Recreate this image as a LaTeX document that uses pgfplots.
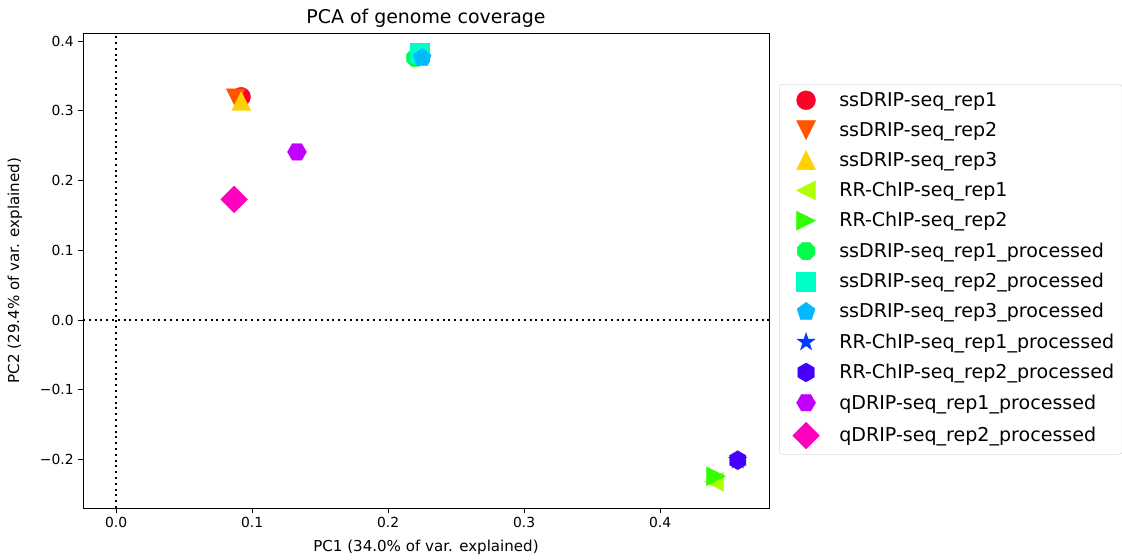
\documentclass[border=0pt]{standalone}
\usepackage{fontspec}
\setmainfont{DejaVu Sans}
\usepackage{pgfplots}
\pgfplotsset{compat=1.18}

\definecolor{c0}{HTML}{FF0029}
\definecolor{c1}{HTML}{FF5400}
\definecolor{c2}{HTML}{FFD100}
\definecolor{c3}{HTML}{AFFF00}
\definecolor{c4}{HTML}{32FF00}
\definecolor{c5}{HTML}{00FF4B}
\definecolor{c6}{HTML}{00FFC7}
\definecolor{c7}{HTML}{00B9FF}
\definecolor{c8}{HTML}{003BFF}
\definecolor{c9}{HTML}{4300FF}
\definecolor{c10}{HTML}{C100FF}
\definecolor{c11}{HTML}{FF00BF}

\pgfdeclareplotmark{tup}{%
  \pgfpathmoveto{\pgfqpoint{0pt}{\pgfplotmarksize}}%
  \pgfpathlineto{\pgfqpoint{-\pgfplotmarksize}{-\pgfplotmarksize}}%
  \pgfpathlineto{\pgfqpoint{\pgfplotmarksize}{-\pgfplotmarksize}}%
  \pgfpathclose\pgfusepathqfillstroke}
\pgfdeclareplotmark{tdown}{%
  \pgfpathmoveto{\pgfqpoint{0pt}{-\pgfplotmarksize}}%
  \pgfpathlineto{\pgfqpoint{-\pgfplotmarksize}{\pgfplotmarksize}}%
  \pgfpathlineto{\pgfqpoint{\pgfplotmarksize}{\pgfplotmarksize}}%
  \pgfpathclose\pgfusepathqfillstroke}
\pgfdeclareplotmark{tleft}{%
  \pgfpathmoveto{\pgfqpoint{-\pgfplotmarksize}{0pt}}%
  \pgfpathlineto{\pgfqpoint{\pgfplotmarksize}{\pgfplotmarksize}}%
  \pgfpathlineto{\pgfqpoint{\pgfplotmarksize}{-\pgfplotmarksize}}%
  \pgfpathclose\pgfusepathqfillstroke}
\pgfdeclareplotmark{tright}{%
  \pgfpathmoveto{\pgfqpoint{\pgfplotmarksize}{0pt}}%
  \pgfpathlineto{\pgfqpoint{-\pgfplotmarksize}{\pgfplotmarksize}}%
  \pgfpathlineto{\pgfqpoint{-\pgfplotmarksize}{-\pgfplotmarksize}}%
  \pgfpathclose\pgfusepathqfillstroke}
\pgfdeclareplotmark{sq}{%
  \pgfpathrectanglecorners{\pgfqpoint{-\pgfplotmarksize}{-\pgfplotmarksize}}{\pgfqpoint{\pgfplotmarksize}{\pgfplotmarksize}}%
  \pgfusepathqfillstroke}
\pgfdeclareplotmark{diam}{%
  \pgfpathmoveto{\pgfqpoint{0pt}{1.414\pgfplotmarksize}}%
  \pgfpathlineto{\pgfqpoint{1.414\pgfplotmarksize}{0pt}}%
  \pgfpathlineto{\pgfqpoint{0pt}{-1.414\pgfplotmarksize}}%
  \pgfpathlineto{\pgfqpoint{-1.414\pgfplotmarksize}{0pt}}%
  \pgfpathclose\pgfusepathqfillstroke}
\pgfdeclareplotmark{oct}{%
  \pgfpathmoveto{\pgfpointpolar{22.5}{\pgfplotmarksize}}%
  \pgfpathlineto{\pgfpointpolar{67.5}{\pgfplotmarksize}}%
  \pgfpathlineto{\pgfpointpolar{112.5}{\pgfplotmarksize}}%
  \pgfpathlineto{\pgfpointpolar{157.5}{\pgfplotmarksize}}%
  \pgfpathlineto{\pgfpointpolar{202.5}{\pgfplotmarksize}}%
  \pgfpathlineto{\pgfpointpolar{247.5}{\pgfplotmarksize}}%
  \pgfpathlineto{\pgfpointpolar{292.5}{\pgfplotmarksize}}%
  \pgfpathlineto{\pgfpointpolar{337.5}{\pgfplotmarksize}}%
  \pgfpathclose\pgfusepathqfillstroke}
\pgfdeclareplotmark{pent}{%
  \pgfpathmoveto{\pgfpointpolar{90}{\pgfplotmarksize}}%
  \pgfpathlineto{\pgfpointpolar{162}{\pgfplotmarksize}}%
  \pgfpathlineto{\pgfpointpolar{234}{\pgfplotmarksize}}%
  \pgfpathlineto{\pgfpointpolar{306}{\pgfplotmarksize}}%
  \pgfpathlineto{\pgfpointpolar{18}{\pgfplotmarksize}}%
  \pgfpathclose\pgfusepathqfillstroke}
\pgfdeclareplotmark{hexa}{%
  \pgfpathmoveto{\pgfpointpolar{90}{\pgfplotmarksize}}%
  \pgfpathlineto{\pgfpointpolar{150}{\pgfplotmarksize}}%
  \pgfpathlineto{\pgfpointpolar{210}{\pgfplotmarksize}}%
  \pgfpathlineto{\pgfpointpolar{270}{\pgfplotmarksize}}%
  \pgfpathlineto{\pgfpointpolar{330}{\pgfplotmarksize}}%
  \pgfpathlineto{\pgfpointpolar{30}{\pgfplotmarksize}}%
  \pgfpathclose\pgfusepathqfillstroke}
\pgfdeclareplotmark{hexb}{%
  \pgfpathmoveto{\pgfpointpolar{0}{\pgfplotmarksize}}%
  \pgfpathlineto{\pgfpointpolar{60}{\pgfplotmarksize}}%
  \pgfpathlineto{\pgfpointpolar{120}{\pgfplotmarksize}}%
  \pgfpathlineto{\pgfpointpolar{180}{\pgfplotmarksize}}%
  \pgfpathlineto{\pgfpointpolar{240}{\pgfplotmarksize}}%
  \pgfpathlineto{\pgfpointpolar{300}{\pgfplotmarksize}}%
  \pgfpathclose\pgfusepathqfillstroke}
\pgfdeclareplotmark{starf}{%
  \pgfpathmoveto{\pgfpointpolar{90}{\pgfplotmarksize}}%
  \pgfpathlineto{\pgfpointpolar{126}{0.382\pgfplotmarksize}}%
  \pgfpathlineto{\pgfpointpolar{162}{\pgfplotmarksize}}%
  \pgfpathlineto{\pgfpointpolar{198}{0.382\pgfplotmarksize}}%
  \pgfpathlineto{\pgfpointpolar{234}{\pgfplotmarksize}}%
  \pgfpathlineto{\pgfpointpolar{270}{0.382\pgfplotmarksize}}%
  \pgfpathlineto{\pgfpointpolar{306}{\pgfplotmarksize}}%
  \pgfpathlineto{\pgfpointpolar{342}{0.382\pgfplotmarksize}}%
  \pgfpathlineto{\pgfpointpolar{18}{\pgfplotmarksize}}%
  \pgfpathlineto{\pgfpointpolar{54}{0.382\pgfplotmarksize}}%
  \pgfpathclose\pgfusepathqfillstroke}

\pgfplotsset{
  sc/.style={mark size=7.1pt, mark options={solid, line width=0.3pt}},
  dline/.style={black, sharp plot, mark=none, dash pattern=on 1.5pt off 2.85pt, line width=1.5pt, forget plot},
}

\begin{document}
\begin{tikzpicture}
\begin{axis}[
  name=ax,
  scale only axis,
  width=514.5pt, height=356.25pt,
  xmin=-0.0243, xmax=0.480,
  ymin=-0.2695, ymax=0.4115,
  xtick={0,0.1,0.2,0.3,0.4},
  xticklabels={0.0,0.1,0.2,0.3,0.4},
  ytick={-0.2,-0.1,0,0.1,0.2,0.3,0.4},
  yticklabels={−0.2,−0.1,0.0,0.1,0.2,0.3,0.4},
  tick align=outside,
  xtick pos=left, ytick pos=left,
  major tick length=3.5pt,
  tick style={black, line width=0.6pt},
  axis line style={line width=0.6pt},
  ticklabel style={font=\fontsize{10.4}{12}\selectfont},
  xlabel={PC1 (34.0\% of var. explained)},
  ylabel={PC2 (29.4\% of var. explained)},
  label style={font=\fontsize{11.3}{13}\selectfont},
  xlabel style={at={(0.5,-0.0821)}, anchor=center},
  ylabel style={at={(-0.0991,0.5)}, anchor=center, rotate=0},
  title={PCA of genome coverage},
  title style={at={(0.5,1.014)}, anchor=center, font=\fontsize{14.2}{16}\selectfont},
  legend style={at={(1.0146,0.8926)}, anchor=north west, draw=black!15, rounded corners=2pt,
    font=\fontsize{14.3}{16}\selectfont, row sep=6.4pt, inner xsep=4pt, inner ysep=4pt},
  legend cell align=left,
  legend image code/.code={%
    \path[draw=none, fill=none] (0pt,0pt) -- (39pt,0pt);
    \draw[mark repeat=2,mark phase=2,#1,only marks] plot coordinates {(0pt,0pt) (16.1pt,0pt) (39pt,0pt)};},
]
\addplot[dline] coordinates {(0,-0.2695) (0,0.4115)};
\addplot[dline] coordinates {(-0.0243,0) (0.480,0)};

\addplot[sc, c0, mark=*] coordinates {(0.0919,0.320)};
\addlegendentry{ssDRIP-seq\_rep1}
\addplot[sc, c1, mark=tdown] coordinates {(0.088,0.318)};
\addlegendentry{ssDRIP-seq\_rep2}
\addplot[sc, c2, mark=tup] coordinates {(0.092,0.314)};
\addlegendentry{ssDRIP-seq\_rep3}
\addplot[sc, c3, mark=tleft] coordinates {(0.4397,-0.232)};
\addlegendentry{RR-ChIP-seq\_rep1}
\addplot[sc, c4, mark=tright] coordinates {(0.441,-0.224)};
\addlegendentry{RR-ChIP-seq\_rep2}
\addplot[sc, c5, mark=oct] coordinates {(0.220,0.376)};
\addlegendentry{ssDRIP-seq\_rep1\_processed}
\addplot[sc, c6, mark=sq] coordinates {(0.223,0.383)};
\addlegendentry{ssDRIP-seq\_rep2\_processed}
\addplot[sc, c7, mark=pent] coordinates {(0.225,0.376)};
\addlegendentry{ssDRIP-seq\_rep3\_processed}
\addplot[sc, c8, mark=starf] coordinates {(0.457,-0.201)};
\addlegendentry{RR-ChIP-seq\_rep1\_processed}
\addplot[sc, c9, mark=hexa] coordinates {(0.457,-0.201)};
\addlegendentry{RR-ChIP-seq\_rep2\_processed}
\addplot[sc, c10, mark=hexb] coordinates {(0.133,0.241)};
\addlegendentry{qDRIP-seq\_rep1\_processed}
\addplot[sc, c11, mark=diam] coordinates {(0.0868,0.173)};
\addlegendentry{qDRIP-seq\_rep2\_processed}

\coordinate (bl) at (rel axis cs:-0.121,-0.1074);
\coordinate (tr) at (rel axis cs:1.5146,1.0695);
\end{axis}
\pgfresetboundingbox
\path[use as bounding box] (bl) rectangle (tr);
\end{tikzpicture}
\end{document}
